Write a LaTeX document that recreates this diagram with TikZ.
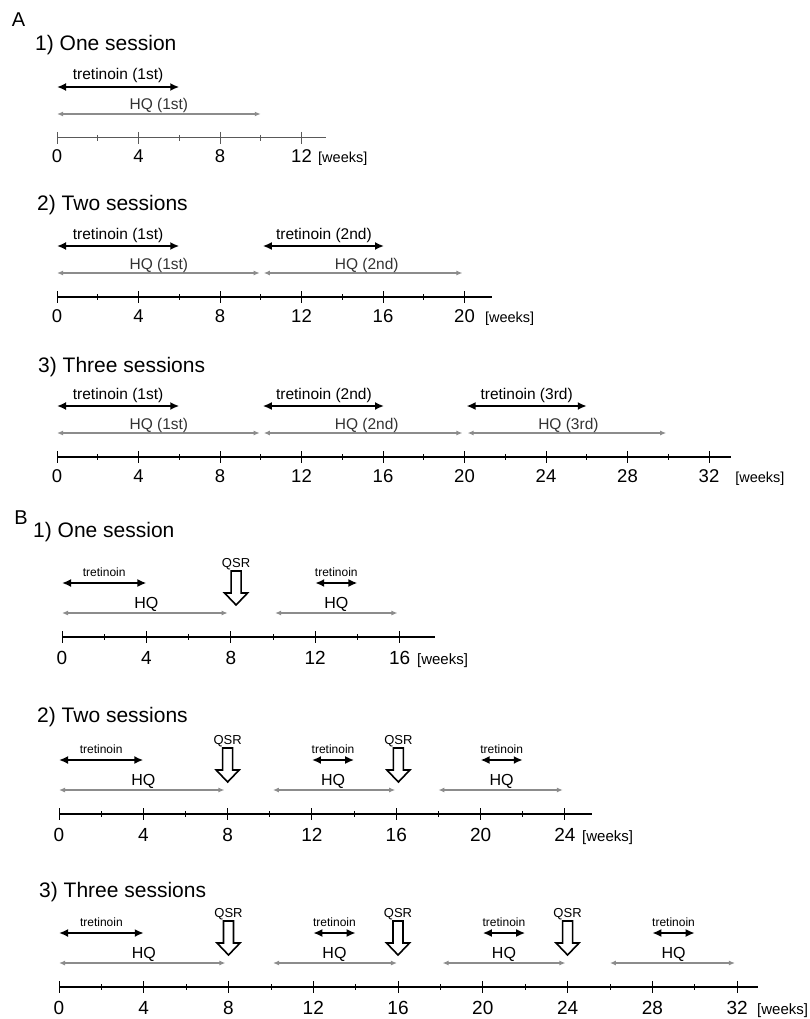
\documentclass[tikz,border=0pt]{standalone}
\usepackage{fontspec}
\setmainfont{Liberation Sans}
\usetikzlibrary{arrows.meta,positioning,calc}

\definecolor{hqgray}{gray}{0.55}
\definecolor{axisgray}{gray}{0.35}

\tikzset{
  axis/.style={line width=1.4pt},
  majtick/.style={line width=1pt},
  mintick/.style={line width=0.8pt},
  tret/.style={line width=2.4pt, {Latex[length=9pt,width=8pt]}-{Latex[length=9pt,width=8pt]}},
  hq/.style={draw=hqgray, line width=1.9pt, {Latex[length=6pt,width=5pt]}-{Latex[length=6pt,width=5pt]}},
  qsrline/.style={draw=black, fill=white, line width=1.6pt, line join=miter},
  qsr/.pic={\draw[qsrline] (-5pt,0pt) -- (-5pt,-22pt) -- (-11.5pt,-22pt) -- (0pt,-34pt) -- (11.5pt,-22pt) -- (5pt,-22pt) -- (5pt,0pt) -- cycle;},
  panellbl/.style={font=\fontsize{20}{20}\selectfont, anchor=base, inner sep=0pt},
  titlelbl/.style={font=\fontsize{21}{21}\selectfont, anchor=base west, inner sep=0pt},
  tretlbl/.style={font=\fontsize{15.5}{15.5}\selectfont, anchor=base, inner sep=0pt},
  hqlbl/.style={font=\fontsize{15.5}{15.5}\selectfont, text=black!80, anchor=base, inner sep=0pt},
  weeklbl/.style={font=\fontsize{18.5}{18.5}\selectfont, anchor=base, inner sep=0pt},
  unitlbl/.style={font=\fontsize{14.5}{14.5}\selectfont, anchor=base west, inner sep=0pt},
  btretlbl/.style={font=\fontsize{12}{12}\selectfont, anchor=base, inner sep=0pt},
  bhqlbl/.style={font=\fontsize{16}{16}\selectfont, anchor=base, inner sep=0pt},
  qsrlbl/.style={font=\fontsize{13}{13}\selectfont, anchor=base, inner sep=0pt},
  bweeklbl/.style={font=\fontsize{19}{19}\selectfont, anchor=base, inner sep=0pt},
  bunitlbl/.style={font=\fontsize{15}{15}\selectfont, anchor=base west, inner sep=0pt}
}

\begin{document}
\begin{tikzpicture}[x=1pt, y=-1pt]
  \useasboundingbox (0,0) rectangle (809,1019);

  % A: tretinoin and HQ only
  \node[panellbl] (labA) at (18.5,27) {A};
  \node[titlelbl] (A1-title) at (35,50.5) {1) One session};
  \node[titlelbl] (A2-title) at (37,210.5) {2) Two sessions};
  \node[titlelbl] (A3-title) at (38,372.5) {3) Three sessions};

  \begin{scope}[shift={(57,138)}, x=20.375pt]
    \coordinate (A1-l) at (0,0);
    \coordinate (A1-r) at (13.2,0);
    \draw[axis, draw=axisgray, line width=1pt] (A1-l) -- (A1-r);
    \foreach \w in {0,4,8,12} \draw[majtick, draw=axisgray] (\w,-6) -- (\w,6);
    \foreach \w in {2,6,10} \draw[mintick, draw=axisgray] (\w,-3) -- (\w,3);
    \foreach \w in {0,4,8,12} \node[weeklbl] (A1-n\w) at (\w,25) {\w};
    \node[unitlbl] (A1-unit) at (12.81,25) {[weeks]};
    \foreach \i/\n/\ts/\te/\tc/\hs/\he/\hc in {1/1st/0/6/3/0/10/5} {
      \coordinate (A1-t\i-l) at (\ts,-51);
      \coordinate (A1-t\i-r) at (\te,-51);
      \draw[tret] (A1-t\i-l) -- (A1-t\i-r);
      \node[tretlbl] (A1-tl\i) at (\tc,-58) {tretinoin (\n)};
      \coordinate (A1-h\i-l) at (\hs,-24);
      \coordinate (A1-h\i-r) at (\he,-24);
      \draw[hq] (A1-h\i-l) -- (A1-h\i-r);
      \node[hqlbl] (A1-hl\i) at (\hc,-28) {HQ (\n)};
    }
  \end{scope}

  \begin{scope}[shift={(57,297)}, x=20.375pt]
    \coordinate (A2-l) at (0,0);
    \coordinate (A2-r) at (21.35,0);
    \draw[axis] (A2-l) -- (A2-r);
    \foreach \w in {0,4,...,20} \draw[majtick] (\w,-6) -- (\w,6);
    \foreach \w in {2,6,...,18} \draw[mintick] (\w,-3) -- (\w,3);
    \foreach \w in {0,4,...,20} \node[weeklbl] (A2-n\w) at (\w,25) {\w};
    \node[unitlbl] (A2-unit) at (21.0,25) {[weeks]};
    \foreach \i/\n/\ts/\te/\tc/\hs/\he/\hc in {1/1st/0/6/3/0/9.95/5, 2/2nd/10.1/16.05/13.1/10.15/19.9/15.2} {
      \coordinate (A2-t\i-l) at (\ts,-51);
      \coordinate (A2-t\i-r) at (\te,-51);
      \draw[tret] (A2-t\i-l) -- (A2-t\i-r);
      \node[tretlbl] (A2-tl\i) at (\tc,-58) {tretinoin (\n)};
      \coordinate (A2-h\i-l) at (\hs,-24);
      \coordinate (A2-h\i-r) at (\he,-24);
      \draw[hq] (A2-h\i-l) -- (A2-h\i-r);
      \node[hqlbl] (A2-hl\i) at (\hc,-28) {HQ (\n)};
    }
  \end{scope}

  \begin{scope}[shift={(57,457)}, x=20.375pt]
    \coordinate (A3-l) at (0,0);
    \coordinate (A3-r) at (33.1,0);
    \draw[axis] (A3-l) -- (A3-r);
    \foreach \w in {0,4,...,32} \draw[majtick] (\w,-6) -- (\w,6);
    \foreach \w in {2,6,...,30} \draw[mintick] (\w,-3) -- (\w,3);
    \foreach \w in {0,4,...,32} \node[weeklbl] (A3-n\w) at (\w,25) {\w};
    \node[unitlbl] (A3-unit) at (33.28,25) {[weeks]};
    \foreach \i/\n/\ts/\te/\tc/\hs/\he/\hc in {1/1st/0/6/3/0/9.95/5, 2/2nd/10.1/16.05/13.1/10.15/19.9/15.2, 3/3rd/20.1/26.0/23.05/20.15/29.9/25.1} {
      \coordinate (A3-t\i-l) at (\ts,-51);
      \coordinate (A3-t\i-r) at (\te,-51);
      \draw[tret] (A3-t\i-l) -- (A3-t\i-r);
      \node[tretlbl] (A3-tl\i) at (\tc,-58) {tretinoin (\n)};
      \coordinate (A3-h\i-l) at (\hs,-24);
      \coordinate (A3-h\i-r) at (\he,-24);
      \draw[hq] (A3-h\i-l) -- (A3-h\i-r);
      \node[hqlbl] (A3-hl\i) at (\hc,-28) {HQ (\n)};
    }
  \end{scope}

  % B: with QSR
  \node[panellbl] (labB) at (21,524) {B};
  \node[titlelbl] (B1-title) at (33,537.5) {1) One session};
  \node[titlelbl] (B2-title) at (37,722.5) {2) Two sessions};
  \node[titlelbl] (B3-title) at (39,897.5) {3) Three sessions};

  \begin{scope}[shift={(62,637)}, x=21.1pt]
    \coordinate (B1-l) at (0,0);
    \coordinate (B1-r) at (17.7,0);
    \draw[axis] (B1-l) -- (B1-r);
    \foreach \w in {0,4,...,16} \draw[majtick] (\w,-6) -- (\w,6);
    \foreach \w in {2,6,...,14} \draw[mintick] (\w,-3) -- (\w,3);
    \foreach \w in {0,4,...,16} \node[bweeklbl] (B1-n\w) at (\w,27) {\w};
    \node[bunitlbl] (B1-unit) at (16.82,27) {[weeks]};
    \foreach \i/\ts/\te/\tc/\hs/\he/\hc in {1/0/4/2/0/7.85/4, 2/12/14/13/10.1/15.9/13} {
      \coordinate (B1-t\i-l) at (\ts,-54);
      \coordinate (B1-t\i-r) at (\te,-54);
      \draw[tret] (B1-t\i-l) -- (B1-t\i-r);
      \node[btretlbl] (B1-tl\i) at (\tc,-61) {tretinoin};
      \coordinate (B1-h\i-l) at (\hs,-24);
      \coordinate (B1-h\i-r) at (\he,-24);
      \draw[hq] (B1-h\i-l) -- (B1-h\i-r);
      \node[bhqlbl] (B1-hl\i) at (\hc,-29) {HQ};
    }
    \foreach \i/\q in {1/8.25} {
      \pic (B1-qsr\i) at (\q,-66) {qsr};
      \node[qsrlbl] (B1-ql\i) at (\q,-70) {QSR};
    }
  \end{scope}

  \begin{scope}[shift={(59,814)}, x=21.08pt]
    \coordinate (B2-l) at (0,0);
    \coordinate (B2-r) at (25.3,0);
    \draw[axis] (B2-l) -- (B2-r);
    \foreach \w in {0,4,...,24} \draw[majtick] (\w,-6) -- (\w,6);
    \foreach \w in {2,6,...,22} \draw[mintick] (\w,-3) -- (\w,3);
    \foreach \w in {0,4,...,24} \node[bweeklbl] (B2-n\w) at (\w,27) {\w};
    \node[bunitlbl] (B2-unit) at (24.81,27) {[weeks]};
    \foreach \i/\ts/\te/\tc/\hs/\he/\hc in {1/0/4/2/0/7.85/4, 2/12/14/13/10.15/15.95/13, 3/20/22/21/18/23.9/21} {
      \coordinate (B2-t\i-l) at (\ts,-54);
      \coordinate (B2-t\i-r) at (\te,-54);
      \draw[tret] (B2-t\i-l) -- (B2-t\i-r);
      \node[btretlbl] (B2-tl\i) at (\tc,-61) {tretinoin};
      \coordinate (B2-h\i-l) at (\hs,-24);
      \coordinate (B2-h\i-r) at (\he,-24);
      \draw[hq] (B2-h\i-l) -- (B2-h\i-r);
      \node[bhqlbl] (B2-hl\i) at (\hc,-29) {HQ};
    }
    \foreach \i/\q in {1/8, 2/16.1} {
      \pic (B2-qsr\i) at (\q,-66) {qsr};
      \node[qsrlbl] (B2-ql\i) at (\q,-70) {QSR};
    }
  \end{scope}

  \begin{scope}[shift={(59,987)}, x=21.19pt]
    \coordinate (B3-l) at (0,0);
    \coordinate (B3-r) at (33,0);
    \draw[axis] (B3-l) -- (B3-r);
    \foreach \w in {0,4,...,32} \draw[majtick] (\w,-6) -- (\w,6);
    \foreach \w in {2,6,...,30} \draw[mintick] (\w,-3) -- (\w,3);
    \foreach \w in {0,4,...,32} \node[bweeklbl] (B3-n\w) at (\w,27) {\w};
    \node[bunitlbl] (B3-unit) at (32.94,27) {[weeks]};
    \foreach \i/\ts/\te/\tc/\hs/\he/\hc in {1/0/4/2/0/7.85/4, 2/12/14/13/10.1/15.95/13, 3/20/22/21/18.1/23.9/21, 4/28/30/29/26/31.9/29} {
      \coordinate (B3-t\i-l) at (\ts,-54);
      \coordinate (B3-t\i-r) at (\te,-54);
      \draw[tret] (B3-t\i-l) -- (B3-t\i-r);
      \node[btretlbl] (B3-tl\i) at (\tc,-61) {tretinoin};
      \coordinate (B3-h\i-l) at (\hs,-24);
      \coordinate (B3-h\i-r) at (\he,-24);
      \draw[hq] (B3-h\i-l) -- (B3-h\i-r);
      \node[bhqlbl] (B3-hl\i) at (\hc,-29) {HQ};
    }
    \foreach \i/\q in {1/8, 2/16, 3/24} {
      \pic (B3-qsr\i) at (\q,-66) {qsr};
      \node[qsrlbl] (B3-ql\i) at (\q,-70) {QSR};
    }
  \end{scope}
\end{tikzpicture}
\end{document}
